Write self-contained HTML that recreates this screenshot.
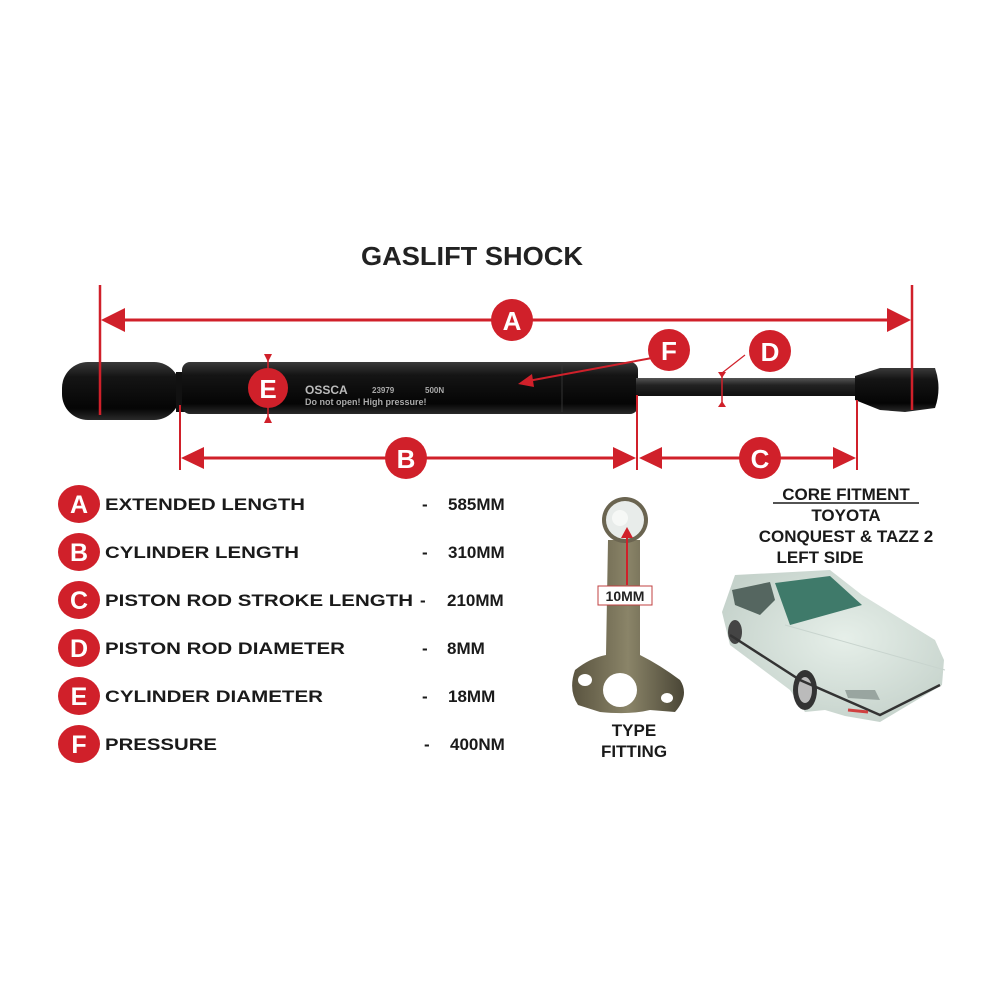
<!DOCTYPE html>
<html><head><meta charset="utf-8"><style>
html,body{margin:0;padding:0;background:#fff;}
svg{display:block;}
text{font-family:"Liberation Sans",Arial,sans-serif;font-weight:bold;}
</style></head><body>
<svg width="1000" height="1000" viewBox="0 0 1000 1000" xmlns="http://www.w3.org/2000/svg">
<defs>
<linearGradient id="cyl" x1="0" y1="0" x2="0" y2="1">
<stop offset="0" stop-color="#3a3a3a"/><stop offset="0.25" stop-color="#151515"/><stop offset="0.8" stop-color="#050505"/><stop offset="1" stop-color="#2a2a2a"/>
</linearGradient>
<linearGradient id="rod" x1="0" y1="0" x2="0" y2="1">
<stop offset="0" stop-color="#555"/><stop offset="0.4" stop-color="#222"/><stop offset="1" stop-color="#111"/>
</linearGradient>
<linearGradient id="metal" x1="0" y1="0" x2="1" y2="0">
<stop offset="0" stop-color="#5a5440"/><stop offset="0.5" stop-color="#8a8468"/><stop offset="1" stop-color="#4a4636"/>
</linearGradient>
<radialGradient id="car" cx="0.55" cy="0.45" r="0.6">
<stop offset="0" stop-color="#e6efe9"/><stop offset="1" stop-color="#c5d2cb"/>
</radialGradient>
</defs>

<text x="472" y="265" font-size="25.5" text-anchor="middle" fill="#222" textLength="222" lengthAdjust="spacingAndGlyphs">GASLIFT SHOCK</text>

<!-- shock -->
<rect x="62" y="362" width="118" height="58" rx="26" fill="url(#cyl)"/>
<rect x="176" y="372" width="12" height="40" fill="#111"/>
<rect x="182" y="362" width="456" height="52" rx="8" fill="url(#cyl)"/>
<line x1="562" y1="364" x2="562" y2="412" stroke="#333" stroke-width="1"/>
<rect x="636" y="378" width="222" height="18" fill="url(#rod)"/>
<path d="M855 376 L880 368 L935 368 Q942 388 935 408 L905 412 L880 410 L855 400 Z" fill="url(#cyl)"/>
<text x="305" y="394" font-size="12" fill="#bbb">OSSCA</text>
<text x="372" y="393" font-size="8" fill="#aaa" font-weight="normal">23979</text>
<text x="425" y="393" font-size="8" fill="#aaa" font-weight="normal">500N</text>
<text x="305" y="405" font-size="9" fill="#aaa" font-weight="normal">Do not open! High pressure!</text>

<g stroke="#d0202a" fill="#d0202a">
<line x1="100" y1="285" x2="100" y2="415" stroke-width="2.5"/>
<line x1="912" y1="285" x2="912" y2="410" stroke-width="2.5"/>
<line x1="110" y1="320" x2="902" y2="320" stroke-width="3"/>
<polygon points="101,320 125,308 125,332" stroke="none"/>
<polygon points="911,320 887,308 887,332" stroke="none"/>
<line x1="180" y1="405" x2="180" y2="470" stroke-width="2"/>
<line x1="637" y1="395" x2="637" y2="470" stroke-width="2"/>
<line x1="857" y1="400" x2="857" y2="470" stroke-width="2"/>
<line x1="190" y1="458" x2="628" y2="458" stroke-width="3"/>
<polygon points="181,458 204,447 204,469" stroke="none"/>
<polygon points="636,458 613,447 613,469" stroke="none"/>
<line x1="648" y1="458" x2="848" y2="458" stroke-width="3"/>
<polygon points="639,458 662,447 662,469" stroke="none"/>
<polygon points="856,458 833,447 833,469" stroke="none"/>
<line x1="268" y1="358" x2="268" y2="420" stroke-width="1.5"/>
<polygon points="264,354 272,354 268,362" stroke="none"/>
<polygon points="264,423 272,423 268,415" stroke="none"/>
<line x1="722" y1="374" x2="722" y2="404" stroke-width="1.5"/>
<polygon points="718,372 726,372 722,378" stroke="none"/>
<polygon points="718,407 726,407 722,401" stroke="none"/>
<line x1="745" y1="355" x2="722" y2="373" stroke-width="1.2"/>
<line x1="652" y1="358" x2="528" y2="381" stroke-width="2"/>
<polygon points="518,384 532,374 534,387" stroke="none"/>
</g>

<g font-size="26" fill="#fff" text-anchor="middle">
<circle cx="512" cy="320" r="21" fill="#d0202a"/><text x="512" y="330">A</text>
<circle cx="268" cy="388" r="20" fill="#d0202a"/><text x="268" y="398">E</text>
<circle cx="669" cy="350" r="21" fill="#d0202a"/><text x="669" y="360">F</text>
<circle cx="770" cy="351" r="21" fill="#d0202a"/><text x="770" y="361">D</text>
<circle cx="406" cy="458" r="21" fill="#d0202a"/><text x="406" y="468">B</text>
<circle cx="760" cy="458" r="21" fill="#d0202a"/><text x="760" y="468">C</text>
</g>

<g font-size="25" fill="#fff" text-anchor="middle">
<ellipse cx="79" cy="504" rx="21" ry="19" fill="#d0202a"/><text x="79" y="513">A</text>
<ellipse cx="79" cy="552" rx="21" ry="19" fill="#d0202a"/><text x="79" y="561">B</text>
<ellipse cx="79" cy="600" rx="21" ry="19" fill="#d0202a"/><text x="79" y="609">C</text>
<ellipse cx="79" cy="648" rx="21" ry="19" fill="#d0202a"/><text x="79" y="657">D</text>
<ellipse cx="79" cy="696" rx="21" ry="19" fill="#d0202a"/><text x="79" y="705">E</text>
<ellipse cx="79" cy="744" rx="21" ry="19" fill="#d0202a"/><text x="79" y="753">F</text>
</g>
<g font-size="17" fill="#1a1a1a">
<text x="105" y="510" textLength="200" lengthAdjust="spacingAndGlyphs">EXTENDED LENGTH</text>
<text x="105" y="558" textLength="194" lengthAdjust="spacingAndGlyphs">CYLINDER LENGTH</text>
<text x="105" y="606" textLength="308" lengthAdjust="spacingAndGlyphs">PISTON ROD STROKE LENGTH</text>
<text x="105" y="654" textLength="240" lengthAdjust="spacingAndGlyphs">PISTON ROD DIAMETER</text>
<text x="105" y="702" textLength="218" lengthAdjust="spacingAndGlyphs">CYLINDER DIAMETER</text>
<text x="105" y="750" textLength="112" lengthAdjust="spacingAndGlyphs">PRESSURE</text>
<text x="422" y="510">-</text><text x="422" y="558">-</text><text x="420" y="606">-</text>
<text x="422" y="654">-</text><text x="422" y="702">-</text><text x="424" y="750">-</text>
<text x="448" y="510">585MM</text>
<text x="448" y="558">310MM</text>
<text x="447" y="606">210MM</text>
<text x="447" y="654">8MM</text>
<text x="448" y="702">18MM</text>
<text x="450" y="750">400NM</text>
</g>

<path d="M608 540 L640 540 L640 655 Q660 665 680 680 Q690 695 675 712 L650 710 Q630 715 600 712 L578 705 Q568 690 575 670 Q590 658 606 655 Z" fill="url(#metal)"/>
<circle cx="625" cy="520" r="23" fill="#6a6450"/>
<circle cx="625" cy="520" r="19" fill="#e8ecea"/>
<circle cx="620" cy="518" r="8" fill="#f6f8f6"/>
<circle cx="620" cy="690" r="17" fill="#fff"/>
<ellipse cx="585" cy="680" rx="7" ry="6" fill="#fff"/>
<ellipse cx="667" cy="698" rx="6" ry="5" fill="#fff"/>
<line x1="627" y1="585" x2="627" y2="535" stroke="#d0202a" stroke-width="2"/>
<polygon points="627,527 621,538 633,538" fill="#d0202a"/>
<rect x="598" y="586" width="54" height="19" fill="#fff" stroke="#c04040" stroke-width="1"/>
<text x="625" y="601" font-size="14" font-weight="normal" text-anchor="middle" fill="#222">10MM</text>
<text x="634" y="736" font-size="17" text-anchor="middle" fill="#1a1a1a">TYPE</text>
<text x="634" y="757" font-size="17" text-anchor="middle" fill="#1a1a1a">FITTING</text>

<g font-size="17" fill="#1a1a1a" text-anchor="middle">
<text x="846" y="500">CORE FITMENT</text>
<line x1="773" y1="503" x2="919" y2="503" stroke="#1a1a1a" stroke-width="1.5"/>
<text x="846" y="521">TOYOTA</text>
<text x="846" y="542">CONQUEST &amp; TAZZ 2</text>
<text x="820" y="563">LEFT SIDE</text>
</g>

<path d="M722 612 L735 575 L830 570 L862 595 L935 640 L944 660 L942 685 L880 722 L845 716 L825 710 L805 712 L790 690 L730 645 Z" fill="url(#car)"/>
<path d="M775 583 L830 576 L862 605 L790 625 Z" fill="#3f7a6a"/>
<path d="M732 590 L770 582 L775 600 L760 615 L735 605 Z" fill="#556660"/>
<path d="M785 625 L945 670" stroke="#c8d4ce" stroke-width="1"/>
<ellipse cx="805" cy="690" rx="12" ry="20" fill="#333"/>
<ellipse cx="805" cy="690" rx="7" ry="13" fill="#bbb"/>
<ellipse cx="735" cy="632" rx="7" ry="12" fill="#444"/>
<path d="M730 635 L800 680 L880 715 L940 685" stroke="#333" stroke-width="2.5" fill="none"/>
<path d="M845 690 L875 690 L880 700 L848 698 Z" fill="#99a5a0"/>
<path d="M848 710 L868 712" stroke="#d04040" stroke-width="3"/>
</svg>
</body></html>
